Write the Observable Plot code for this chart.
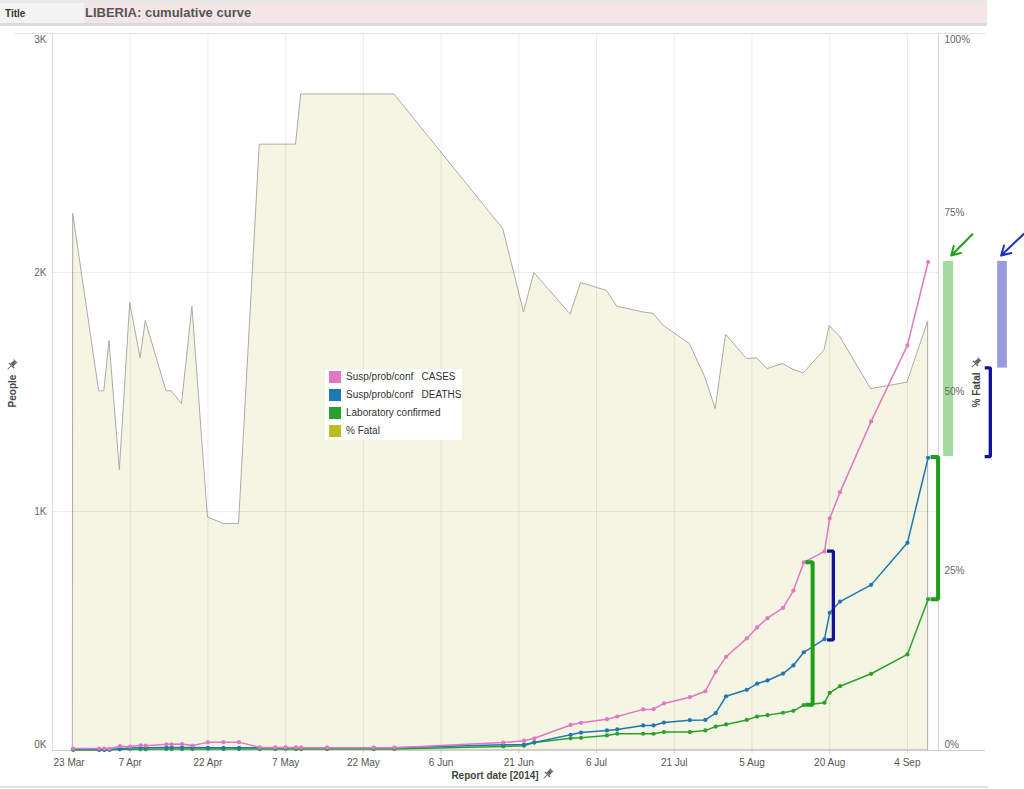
<!DOCTYPE html>
<html>
<head>
<meta charset="utf-8">
<script src="https://cdn.jsdelivr.net/npm/d3@7"></script>
<script src="https://cdn.jsdelivr.net/npm/@observablehq/plot@0.6"></script>
<style>
  body { margin: 0; background: #fff; font-family: "Liberation Sans", Arial, sans-serif; }
  #wrap { position: relative; width: 1024px; height: 789px; overflow: hidden; background: #fff; }
  #tb { position: absolute; left: 0; top: 0; width: 987px; height: 20px; border-top: 3px solid #e8e8e8; border-bottom: 3px solid #dadada; background: #f4e6e6; }
  #tbl { position: absolute; left: 0; top: 0; width: 79px; height: 20px; padding-left: 5px; background: #f3f3f3; font-weight: bold; font-size: 10px; line-height: 22px; color: #333; }
  #tbt { position: absolute; left: 85px; top: 0; height: 20px; font-weight: bold; font-size: 13px; line-height: 19px; color: #555; }
  #chart svg { position: absolute; left: 0; top: 28px; overflow: visible; background: transparent; }
  .ov { position: absolute; z-index: 5; }
  .axl { font-weight: bold; font-size: 10px; color: #444; white-space: nowrap; }
  #legend { position: absolute; z-index: 5; left: 325px; top: 369px; width: 137px; height: 71px; background: #fff; }
  .row { position: absolute; left: 4px; height: 12px; font-size: 10px; line-height: 12px; white-space: pre; color: #333; }
  .sw { position: absolute; left: 0; top: 0; width: 12px; height: 12px; }
  .row span.t { position: absolute; left: 17px; top: 0; }
  #botline { position: absolute; left: 0; top: 786px; width: 988px; height: 2px; background: #e2e2e2; }
</style>
</head>
<body>
<div id="wrap">
  <div id="tb"><div id="tbl">Title</div><div id="tbt">LIBERIA: cumulative curve</div></div>
  <div id="chart"></div>
  <div id="legend"></div>
  <div id="botline"></div>
</div>
<script>
// ---------------- data ----------------
const dates = [
  "2014-03-27","2014-04-01","2014-04-02","2014-04-03","2014-04-05","2014-04-07","2014-04-09","2014-04-10",
  "2014-04-14","2014-04-15","2014-04-17","2014-04-19","2014-04-22","2014-04-25","2014-04-28",
  "2014-05-02","2014-05-05","2014-05-07","2014-05-09","2014-05-10","2014-05-15","2014-05-24","2014-05-28",
  "2014-06-18","2014-06-22","2014-06-24",
  "2014-07-01","2014-07-03","2014-07-08","2014-07-10","2014-07-15","2014-07-17","2014-07-19","2014-07-24",
  "2014-07-27","2014-07-29","2014-07-31",
  "2014-08-04","2014-08-06","2014-08-08","2014-08-11","2014-08-13","2014-08-15","2014-08-19","2014-08-20",
  "2014-08-22","2014-08-28","2014-09-04","2014-09-08"
];
const cases = [8,8,8,7,18,16,22,20,26,26,27,21,34,35,35,
  13,13,13,13,12,12,12,12,
  33,41,51,
  107,116,131,142,172,173,197,223,248,329,392,
  469,515,554,597,669,787,833,971,1081,1377,1695,2044];
const deaths = [6,4,4,4,7,10,12,12,13,13,13,13,11,11,11,
  11,11,11,11,11,11,11,11,
  24,25,34,
  66,75,84,88,105,105,117,127,128,156,227,
  254,280,293,322,356,411,466,576,623,693,869,1225];
const labConfirmed = [2,2,2,2,5,5,5,5,6,6,6,6,6,6,6,
  6,6,6,6,6,6,6,6,
  17,20,33,
  51,53,63,70,70,70,77,77,84,100,109,
  128,142,148,158,166,190,200,241,269,321,402,633];
const pctFatal = [74.8,50.1,50.1,57.1,39.1,62.4,54.7,59.9,50.1,50.1,48.3,61.9,32.5,31.6,31.6,
  84.5,84.5,84.5,84.5,91.5,91.5,91.5,91.5,
  72.7,61.1,66.6,
  60.8,65.2,64.1,61.9,61.1,60.9,59.2,56.7,52.0,47.6,58.0,
  54.6,54.7,53.2,53.9,53.1,52.6,55.8,59.2,57.7,50.4,51.3,59.8];

const tickDates = ["2014-03-23","2014-04-07","2014-04-22","2014-05-07","2014-05-22","2014-06-06",
  "2014-06-21","2014-07-06","2014-07-21","2014-08-05","2014-08-20","2014-09-04"];
const xTickLabels = ["23 Mar","7 Apr","22 Apr","7 May","22 May","6 Jun","21 Jun","6 Jul","21 Jul","5 Aug","20 Aug","4 Sep"];
const peopleTicks = [0, 1000, 2000, 3000];
const pctTicks = [0, 25, 50, 75, 100];

const legendLabels = ["Susp/prob/conf   CASES", "Susp/prob/conf   DEATHS", "Laboratory confirmed", "% Fatal"];

// hand-drawn annotations (values in chart units: dates / people)
const greenBrackets = [
  {from: "2014-08-15T08:00Z", to: "2014-08-16T17:00Z", top: 788, bottom: 191},
  {from: "2014-09-08T11:00Z", to: "2014-09-09T22:00Z", top: 1228, bottom: 633}
];
const navyBrackets = [
  {from: "2014-08-19T12:00Z", to: "2014-08-20T17:00Z", top: 834, bottom: 463},
  {from: "2014-09-18T22:00Z", to: "2014-09-20T00:00Z", top: 1601, bottom: 1230}
];
const greenBars = [{from: "2014-09-10T23:00Z", to: "2014-09-12T22:00Z", top: 2046, bottom: 1230}];
const purpleBars = [{from: "2014-09-21T10:00Z", to: "2014-09-23T07:00Z", top: 2046, bottom: 1600}];
const greenArrows = [{x1: "2014-09-16T13:00Z", y1: 2160, x2: "2014-09-12T11:00Z", y2: 2071}];
const navyArrows = [{x1: "2014-09-26T12:00Z", y1: 2162, x2: "2014-09-22T02:00Z", y2: 2071}];

// ---------------- build ----------------
const PCT_SCALE = 30; // 100 % on the right axis ↔ 3K on the left axis
const rows = dates.map((d, i) => ({date: new Date(d), cases: cases[i], deaths: deaths[i], lab: labConfirmed[i], pct: pctFatal[i]}));
const labelMap = new Map(tickDates.map((d, i) => [+new Date(d), xTickLabels[i]]));
const xFmt = d => labelMap.get(+d);
const yFmt = d => d / 1000 + "K";
const pFmt = d => Math.round(d / PCT_SCALE) + "%";
const tD = tickDates.map(d => new Date(d));

const bracketPts = arr => arr.flatMap((b, i) => [
  {id: i, x: new Date(b.from), y: b.top},
  {id: i, x: new Date(b.to), y: b.top},
  {id: i, x: new Date(b.to), y: b.bottom},
  {id: i, x: new Date(b.from), y: b.bottom}
]);
const barRows = arr => arr.map(b => ({x1: new Date(b.from), x2: new Date(b.to), y1: b.bottom, y2: b.top}));
const arrowRows = arr => arr.map(a => ({x1: new Date(a.x1), y1: a.y1, x2: new Date(a.x2), y2: a.y2}));

const PINK = "#e377c2", BLUE = "#1f77b4", GREEN = "#2ca02c", OLIVE = "#bcbd22";
const domStart = new Date("2014-03-23"), domEnd = new Date("2014-09-10");

const chart = Plot.plot({
  width: 1024,
  height: 761,
  marginLeft: 52,
  marginRight: 86,
  marginTop: 5,
  marginBottom: 39,
  style: {fontFamily: "'Liberation Sans', Arial, sans-serif", fontSize: "10px", color: "#666", background: "transparent", overflow: "visible"},
  x: {type: "utc", domain: [domStart, domEnd], label: null},
  y: {domain: [0, 3000], label: null},
  marks: [
    // % fatal area (right axis, mapped onto the shared y scale)
    Plot.areaY(rows, {x: "date", y: d => d.pct * PCT_SCALE, fill: "#f5f5e3", stroke: "#ababab", strokeWidth: 1}),
    // grid
    Plot.gridX({ticks: tD.slice(1), stroke: "#000", strokeOpacity: 0.075}),
    Plot.gridY({ticks: [1000, 2000], stroke: "#000", strokeOpacity: 0.075}),
    // frame
    Plot.ruleX([domStart], {stroke: "#dcdcdc"}),
    Plot.ruleX([domEnd], {stroke: "#d2d2d2"}),
    Plot.ruleY([3000], {stroke: "#e2e2e2", insetLeft: -37, insetRight: -47}),
    Plot.ruleY([0], {stroke: "#d0d0d0", insetRight: -47}),
    // series
    Plot.lineY(rows, {x: "date", y: "lab", stroke: GREEN, strokeWidth: 1.5}),
    Plot.dot(rows, {x: "date", y: "lab", r: 2.1, fill: GREEN}),
    Plot.lineY(rows, {x: "date", y: "deaths", stroke: BLUE, strokeWidth: 1.5}),
    Plot.dot(rows, {x: "date", y: "deaths", r: 2.1, fill: BLUE}),
    Plot.lineY(rows, {x: "date", y: "cases", stroke: PINK, strokeWidth: 1.5}),
    Plot.dot(rows, {x: "date", y: "cases", r: 2.1, fill: PINK}),
    // annotations
    Plot.rect(barRows(greenBars), {x1: "x1", x2: "x2", y1: "y1", y2: "y2", fill: "#a4dca0"}),
    Plot.rect(barRows(purpleBars), {x1: "x1", x2: "x2", y1: "y1", y2: "y2", fill: "#9a9adc"}),
    Plot.line(bracketPts(greenBrackets), {x: "x", y: "y", z: "id", stroke: "#1f9e1c", strokeWidth: 4, strokeLinejoin: "miter", strokeLinecap: "butt"}),
    Plot.line(bracketPts(navyBrackets), {x: "x", y: "y", z: "id", stroke: "#10109c", strokeWidth: 3.3, strokeLinejoin: "miter", strokeLinecap: "butt"}),
    Plot.arrow(arrowRows(greenArrows), {x1: "x1", y1: "y1", x2: "x2", y2: "y2", stroke: "#1f9e1c", strokeWidth: 2, headLength: 11}),
    Plot.arrow(arrowRows(navyArrows), {x1: "x1", y1: "y1", x2: "x2", y2: "y2", stroke: "#1c30c8", strokeWidth: 2, headLength: 11}),
    // left axis
    Plot.axisY({ticks: peopleTicks.slice(1, 3), tickFormat: yFmt, tickSize: 0, tickPadding: 6, fill: "#666", label: null}),
    Plot.axisY({ticks: [peopleTicks[3]], tickFormat: yFmt, tickSize: 0, tickPadding: 6, dy: 6, fill: "#666", label: null}),
    Plot.axisY({ticks: [peopleTicks[0]], tickFormat: yFmt, tickSize: 0, tickPadding: 6, dy: -6, fill: "#666", label: null}),
    // right axis (% fatal)
    Plot.axisY({anchor: "right", ticks: pctTicks.slice(1, 4).map(p => p * PCT_SCALE), tickFormat: pFmt, tickSize: 0, tickPadding: 6, fill: "#666", label: null}),
    Plot.axisY({anchor: "right", ticks: [pctTicks[4] * PCT_SCALE], tickFormat: pFmt, tickSize: 0, tickPadding: 6, dy: 6, fill: "#666", label: null}),
    Plot.axisY({anchor: "right", ticks: [pctTicks[0] * PCT_SCALE], tickFormat: pFmt, tickSize: 0, tickPadding: 6, dy: -6, fill: "#666", label: null}),
    // bottom axis
    Plot.axisX({ticks: tD.slice(1), tickFormat: xFmt, tickSize: 3, tickPadding: 5, stroke: "#cccccc", fill: "#555", label: null}),
    Plot.axisX({ticks: [tD[0]], tickFormat: xFmt, tickSize: 0, tickPadding: 8, textAnchor: "start", dx: 1, fill: "#555", label: null})
  ]
});
document.getElementById("chart").appendChild(chart);

// legend
const legendColors = [PINK, BLUE, GREEN, OLIVE];
const lg = document.getElementById("legend");
legendLabels.forEach((t, i) => {
  const r = document.createElement("div");
  r.className = "row";
  r.style.top = (2 + i * 18) + "px";
  r.innerHTML = `<span class="sw" style="background:${legendColors[i]}"></span><span class="t"></span>`;
  r.querySelector(".t").textContent = t;
  lg.appendChild(r);
});

// axis titles with pin icons
const wrap = document.getElementById("wrap");
const pinSvg = `<svg width="12" height="12" viewBox="0 0 12 12"><g transform="rotate(45 6 6)" fill="#666" stroke="#666">
  <rect x="3.5" y="0.5" width="5" height="1" stroke="none"/><polygon points="4.3,1.5 7.7,1.5 8.2,6 3.8,6" stroke="none"/>
  <rect x="2.3" y="6" width="7.4" height="1.4" stroke="none"/><line x1="6" y1="7.4" x2="6" y2="12" stroke-width="1"/></g></svg>`;
function addLabel(text, cx, cy, rotate) {
  const d = document.createElement("div");
  d.className = "ov axl";
  d.textContent = text;
  d.style.left = cx + "px";
  d.style.top = cy + "px";
  d.style.transform = `translate(-50%,-50%)` + (rotate ? " rotate(-90deg)" : "");
  wrap.appendChild(d);
}
function addPin(cx, cy) {
  const d = document.createElement("div");
  d.className = "ov";
  d.innerHTML = pinSvg;
  d.style.left = (cx - 6) + "px";
  d.style.top = (cy - 6) + "px";
  d.style.lineHeight = "0";
  wrap.appendChild(d);
}
addLabel("People", 12, 391, true);
addPin(12, 365);
addLabel("% Fatal", 976, 390, true);
addPin(976, 363);
addLabel("Report date [2014]", 495, 775, false);
addPin(548, 774);
</script>
</body>
</html>
